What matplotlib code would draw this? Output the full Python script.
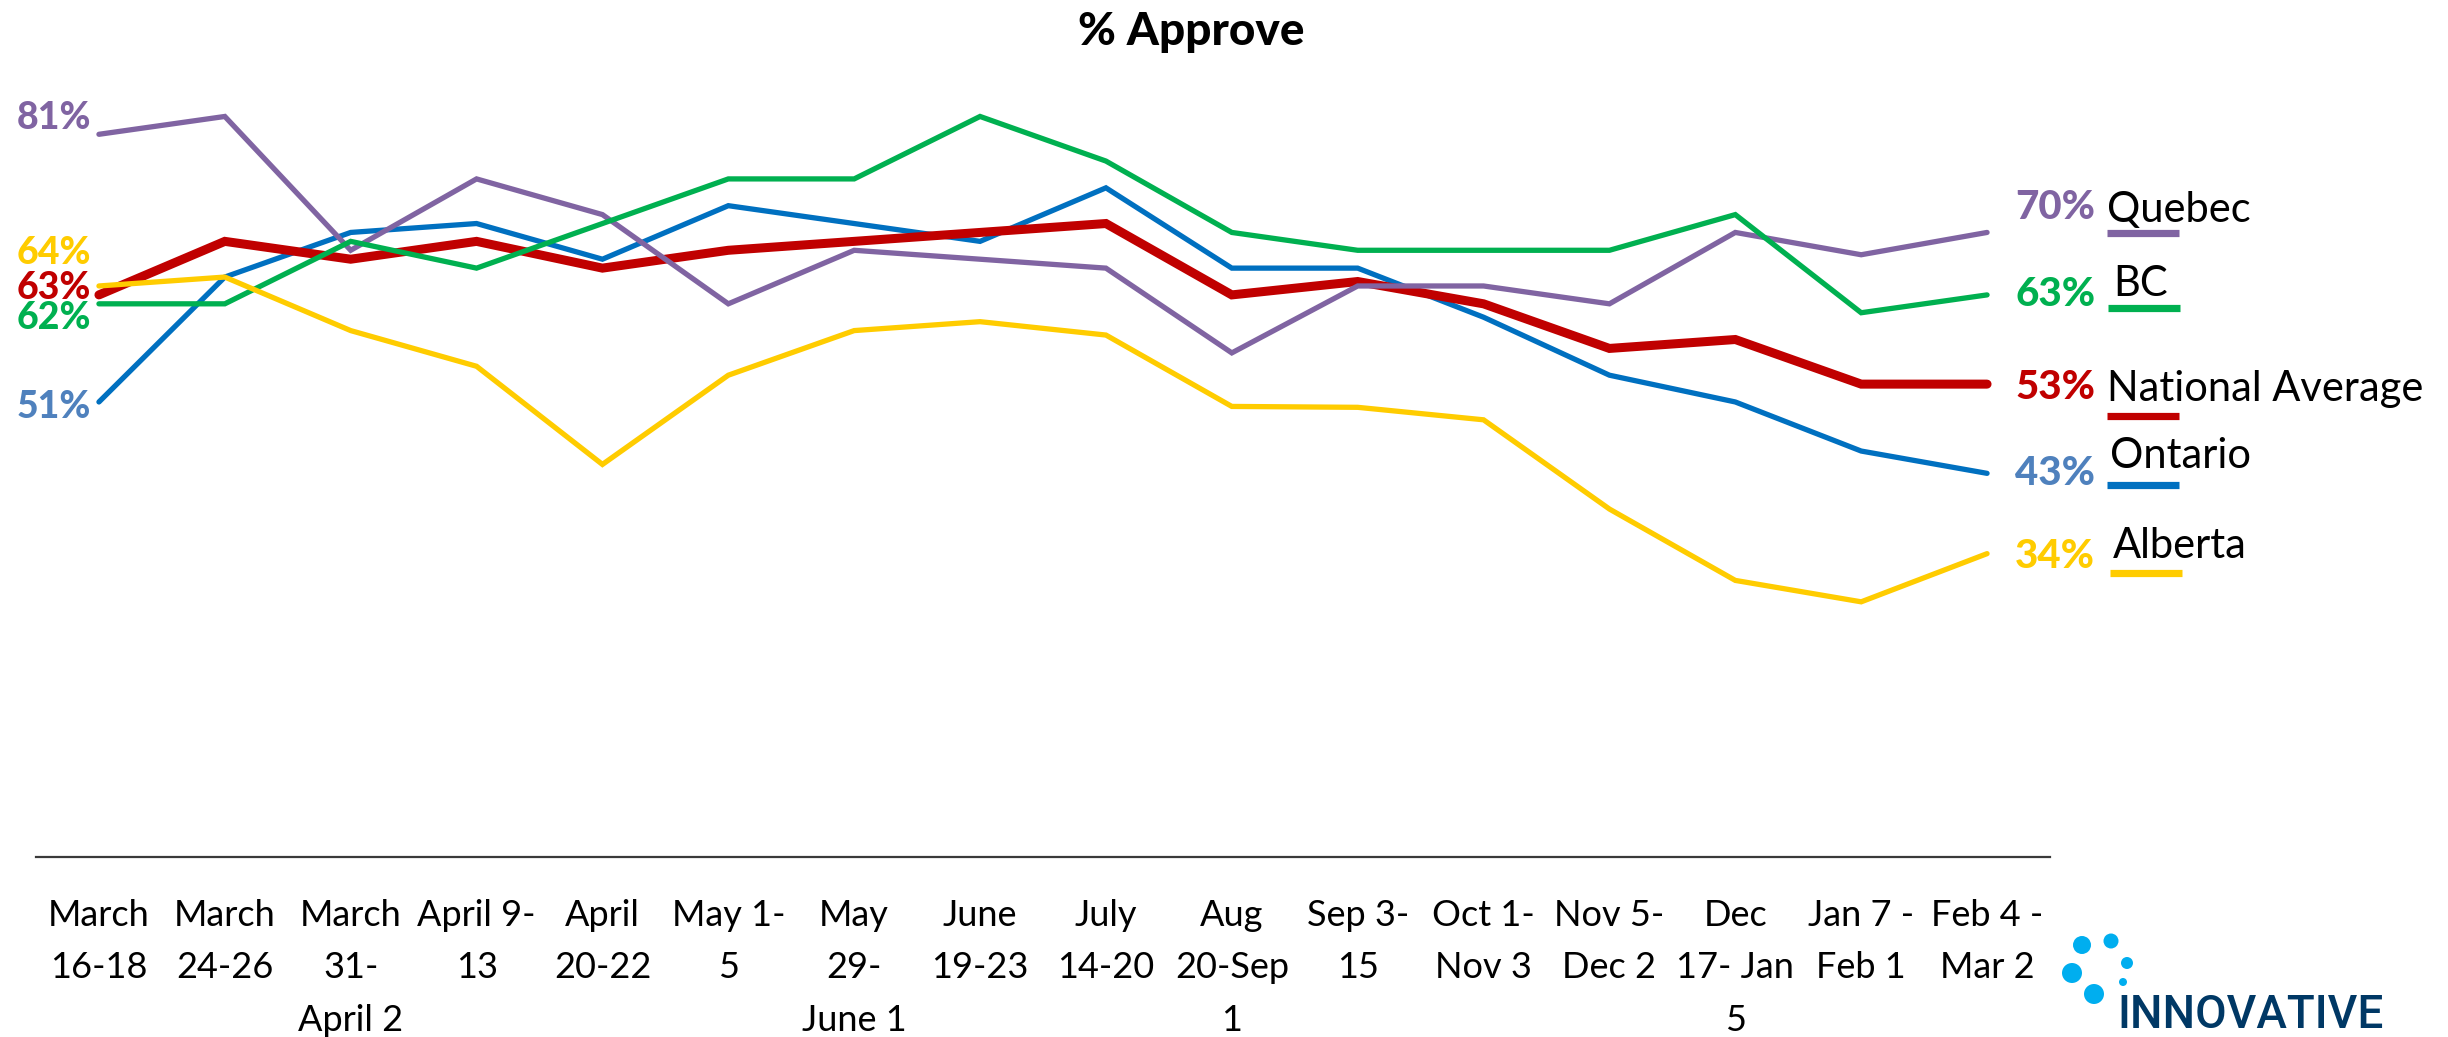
import matplotlib
matplotlib.use("Agg")
import matplotlib.pyplot as plt
from matplotlib.lines import Line2D
from matplotlib.patches import Ellipse

plt.rcParams['font.family'] = ['Lato', 'DejaVu Sans']

# ---------------- data ----------------
periods = ["March\n16-18", "March\n24-26", "March\n31-\nApril 2", "April 9-\n13",
           "April\n20-22", "May 1-\n5", "May\n29-\nJune 1", "June\n19-23",
           "July\n14-20", "Aug\n20-Sep\n1", "Sep 3-\n15", "Oct 1-\nNov 3",
           "Nov 5-\nDec 2", "Dec\n17- Jan\n5", "Jan 7 -\nFeb 1", "Feb 4 -\nMar 2"]

quebec   = [81, 83, 68, 76, 72, 62, 68, 67, 66, 56.5, 64, 64, 62, 70, 67.5, 70]
bc       = [62, 62, 69, 66, 71, 76, 76, 83, 78, 70, 68, 68, 68, 72, 61, 63]
ontario  = [51, 65, 70, 71, 67, 73, 71, 69, 75, 66, 66, 60.5, 54, 51, 45.5, 43]
national = [63, 69, 67, 69, 66, 68, 69, 70, 71, 63, 64.5, 62, 57, 58, 53, 53]
alberta  = [64, 65, 59, 55, 44, 54, 59, 60, 58.5, 50.5, 50.4, 49, 39, 31, 28.6, 34]

series_names = ["Quebec", "BC", "National Average", "Ontario", "Alberta"]
series_vals = [quebec, bc, national, ontario, alberta]
colors = ["#8064A2", "#00B050", "#C00000", "#0070C0", "#FFCC00"]
label_colors = ["#8064A2", "#00B050", "#C00000", "#4F81BD", "#FFCC00"]
widths = [3.8, 3.8, 6.5, 3.8, 3.8]
z = [4, 5, 3, 2, 6]

start_labels = ["81%", "62%", "63%", "51%", "64%"]
end_labels = ["70%", "63%", "53%", "43%", "34%"]

title = "% Approve"

# --------------- figure ---------------
W, H = 2448, 1037
fig = plt.figure(figsize=(W / 100, H / 100), dpi=100)
ax = fig.add_axes([36 / W, 1 - 857 / H, (2050 - 36) / W, (857 - 54) / H])
ax.set_xlim(-0.5, len(periods) - 0.5)
ax.set_ylim(0, 90)

x = list(range(len(periods)))
for vals, col, lw, zz in zip(series_vals, colors, widths, z):
    ax.plot(x, vals, color=col, lw=lw, zorder=zz, solid_capstyle='round',
            solid_joinstyle='miter')

for s in ['top', 'left', 'right']:
    ax.spines[s].set_visible(False)
ax.spines['bottom'].set_color('#3A3A3A')
ax.spines['bottom'].set_linewidth(1.6)
ax.set_yticks([])
ax.set_xticks(x)
ax.set_xticklabels(periods, fontsize=26, linespacing=1.72, color='black')
ax.tick_params(axis='x', length=0, pad=30)

# left value labels
start_dy = [16, -14, 7, -5, 33]
for vals, lab, col, dy in zip(series_vals, start_labels, label_colors, start_dy):
    ax.annotate(lab, xy=(0, vals[0]), xytext=(-8, dy), textcoords='offset pixels',
                ha='right', va='center', fontsize=27, fontweight=900, color=col,
                annotation_clip=False)

# right value labels
end_dy = [25, 0, -3, 0, -3]
for vals, lab, col, dy in zip(series_vals, end_labels, label_colors, end_dy):
    ax.annotate(lab, xy=(len(periods) - 1, vals[-1]), xytext=(28, dy),
                textcoords='offset pixels', ha='left', va='center', fontsize=29,
                fontweight=900, color=col, annotation_clip=False)

# legend-like names with underline bars
name_x = [2107, 2113, 2107, 2110, 2113]
name_base = [222, 296, 401, 468, 558]
bar_x = [2107, 2108, 2107, 2107, 2110]
bar_y = [233, 308, 416, 485, 573]
for nm, col, nx, nb, bx, by in zip(series_names, colors, name_x, name_base, bar_x, bar_y):
    fig.text(nx / W, 1 - nb / H, nm, ha='left', va='baseline', fontsize=30, color='black')
    fig.add_artist(Line2D([bx / W, (bx + 72) / W], [1 - by / H, 1 - by / H],
                          transform=fig.transFigure, color=col, lw=5.2,
                          solid_capstyle='butt'))

fig.text(1191 / W, 1 - 32 / H, title, ha='center', va='center', fontsize=33,
         fontweight=900, color='black')

# logo
dots = [(2082, 945, 9), (2111, 941, 7.5), (2127, 963, 6), (2123, 982, 4),
        (2072, 973, 10), (2094, 994, 10)]
for dx, dy, r in dots:
    fig.add_artist(Ellipse((dx / W, 1 - dy / H), 2 * r / W, 2 * r / H,
                           transform=fig.transFigure, color='#00AEEF', lw=0))
fig.text(2117 / W, 1 - 1028 / H, "INNOVATIVE", ha='left', va='baseline',
         fontsize=33, fontweight='medium', color='#003865',
         family=['Roboto', 'DejaVu Sans'])

fig.savefig("out.png", dpi=100, facecolor='white')
